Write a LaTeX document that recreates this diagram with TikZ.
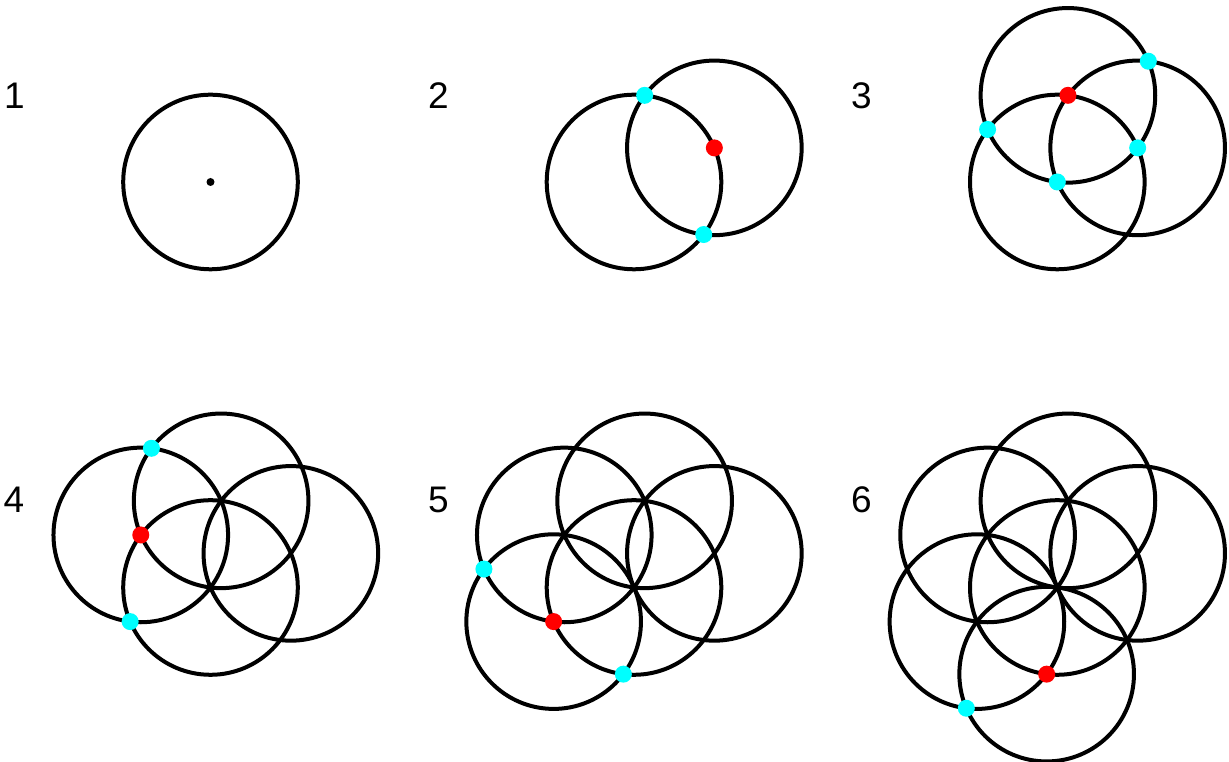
\documentclass[tikz,border=0pt]{standalone}
\usepackage{fontspec}
\setmainfont{Liberation Sans}
\usetikzlibrary{calc}
\definecolor{dotcyan}{RGB}{0,255,255}
\definecolor{dotred}{RGB}{255,0,0}
\begin{document}
\begin{tikzpicture}[x=1pt,y=1pt,
  ring/.style={line width=4pt,draw=black},
  cdot/.style={fill=dotcyan},
  rdot/.style={fill=dotred},
  lab/.style={anchor=base west,inner sep=0pt,font=\fontsize{37}{40}\selectfont}]
\useasboundingbox (0,0) rectangle (1229,762);
\def\R{87.3}
\def\RR{151.2}
\def\D{8.5}
\coordinate (c1) at (210.5,580);
\coordinate (c2) at (634,580);
\coordinate (c3) at (1057.3,580);
\coordinate (c4) at (210.5,174.5);
\coordinate (c5) at (634,174.5);
\coordinate (c6) at (1057.3,174.5);
% labels
\node[lab] (l1) at (4,653.5) {1};
\node[lab] (l2) at (428,653.5) {2};
\node[lab] (l3) at (851,653.5) {3};
\node[lab] (l4) at (3.5,249) {4};
\node[lab] (l5) at (428,249) {5};
\node[lab] (l6) at (851,249) {6};
% panel 1
\draw[ring] (c1) circle[radius=\R];
\fill (c1) circle[radius=4];
% panels 2-6
\foreach \c/\angs in {c2/{23},c3/{23,83},c4/{23,83,143},c5/{23,83,143,203},c6/{23,83,143,203,263}}{
  \draw[ring] (\c) circle[radius=\R];
  \foreach \a in \angs {\draw[ring] ($(\c)+(\a:\R)$) circle[radius=\R];}
}
% panel 2 dots
\fill[rdot] ($(c2)+(23:\R)$) circle[radius=\D];
\fill[cdot] ($(c2)+(83:\R)$) circle[radius=\D];
\fill[cdot] ($(c2)+(-37:\R)$) circle[radius=\D];
% panel 3 dots
\fill[rdot] ($(c3)+(83:\R)$) circle[radius=\D];
\fill[cdot] (c3) circle[radius=\D];
\fill[cdot] ($(c3)+(23:\R)$) circle[radius=\D];
\fill[cdot] ($(c3)+(143:\R)$) circle[radius=\D];
\fill[cdot] ($(c3)+(53:\RR)$) circle[radius=\D];
% panel 4 dots
\fill[rdot] ($(c4)+(143:\R)$) circle[radius=\D];
\fill[cdot] ($(c4)+(113:\RR)$) circle[radius=\D];
\fill[cdot] ($(c4)+(203:\R)$) circle[radius=\D];
% panel 5 dots
\fill[rdot] ($(c5)+(203:\R)$) circle[radius=\D];
\fill[cdot] ($(c5)+(173:\RR)$) circle[radius=\D];
\fill[cdot] ($(c5)+(263:\R)$) circle[radius=\D];
% panel 6 dots
\fill[rdot] ($(c6)+(263:\R)$) circle[radius=\D];
\fill[cdot] ($(c6)+(233:\RR)$) circle[radius=\D];
\end{tikzpicture}
\end{document}
